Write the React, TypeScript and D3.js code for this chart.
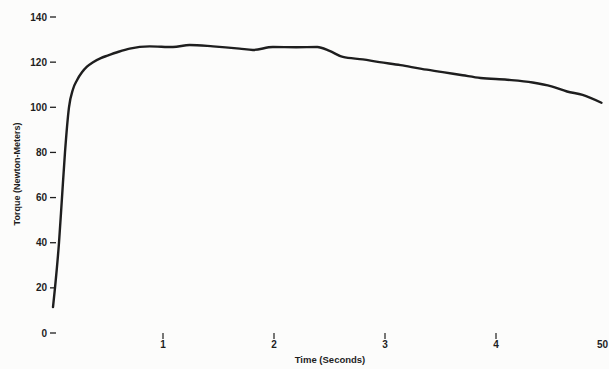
import { useMemo } from "react";
import * as d3 from "d3";

const timeSec = [
  0.009, 0.027, 0.063, 0.09, 0.117, 0.153, 0.189, 0.225, 0.27, 0.315, 0.37,
  0.44, 0.5, 0.6, 0.7, 0.88, 1.09, 1.24, 1.45, 1.69, 1.81, 1.99, 2.2, 2.39,
  2.5, 2.62, 2.8, 2.95, 3.14, 3.33, 3.52, 3.7, 3.86, 4.1, 4.33, 4.5, 4.64,
  4.78, 4.95,
];
const torqueNm = [
  11.5, 20, 40, 60, 80, 100, 108, 112, 115.5, 118, 120, 121.8, 122.9, 124.6,
  126, 127, 126.7, 127.6, 127, 126, 125.4, 126.7, 126.6, 126.7, 125, 122.3,
  121.2, 120, 118.7, 117, 115.6, 114.2, 113, 112.2, 111, 109.3, 107, 105.5,
  102,
];

const yTicks = [0, 20, 40, 60, 80, 100, 120, 140];
const xTicks = [1, 2, 3, 4];
const xEndLabel = "50";

const W = 609;
const H = 369;
const font = "'Liberation Sans', Arial, sans-serif";
const ink = "#1e1e1e";

export default function App() {
  const x = useMemo(() => d3.scaleLinear().domain([0, 5]).range([52, 607]), []);
  const y = useMemo(() => d3.scaleLinear().domain([0, 140]).range([333, 17]), []);

  const path = useMemo(() => {
    const pts = timeSec.map((t, i) => [t, torqueNm[i]] as [number, number]);
    return (
      d3
        .line<[number, number]>()
        .x((d) => x(d[0]))
        .y((d) => y(d[1]))
        .curve(d3.curveMonotoneX)(pts) ?? ""
    );
  }, [x, y]);

  return (
    <svg
      width={W}
      height={H}
      style={{ position: "absolute", left: 0, top: 0, background: "#fcfcfb" }}
      fontFamily={font}
    >
      {yTicks.map((v) => (
        <g key={v} transform={`translate(0,${y(v)})`}>
          <text
            x={47}
            textAnchor="end"
            dominantBaseline="central"
            fontSize={10}
            fontWeight="bold"
            fill={ink}
          >
            {v}
          </text>
          <line x1={50} x2={56} stroke={ink} strokeWidth={1.3} />
        </g>
      ))}

      {xTicks.map((v) => (
        <g key={v} transform={`translate(${x(v)},0)`}>
          <line y1={333} y2={339} stroke={ink} strokeWidth={1.2} />
          <text y={348} textAnchor="middle" fontSize={10} fontWeight="bold" fill={ink}>
            {v}
          </text>
        </g>
      ))}
      <text x={608} y={348} textAnchor="end" fontSize={10} fontWeight="bold" fill={ink}>
        {xEndLabel}
      </text>

      <text
        x={330}
        y={363}
        textAnchor="middle"
        fontSize={9.5}
        fontWeight="bold"
        fill={ink}
      >
        Time (Seconds)
      </text>
      <text
        transform="translate(20,174) rotate(-90)"
        textAnchor="middle"
        fontSize={9}
        fontWeight="bold"
        fill={ink}
      >
        Torque (Newton-Meters)
      </text>

      <path
        d={path}
        fill="none"
        stroke={ink}
        strokeWidth={2.4}
        strokeLinecap="round"
        strokeLinejoin="round"
      />
    </svg>
  );
}
